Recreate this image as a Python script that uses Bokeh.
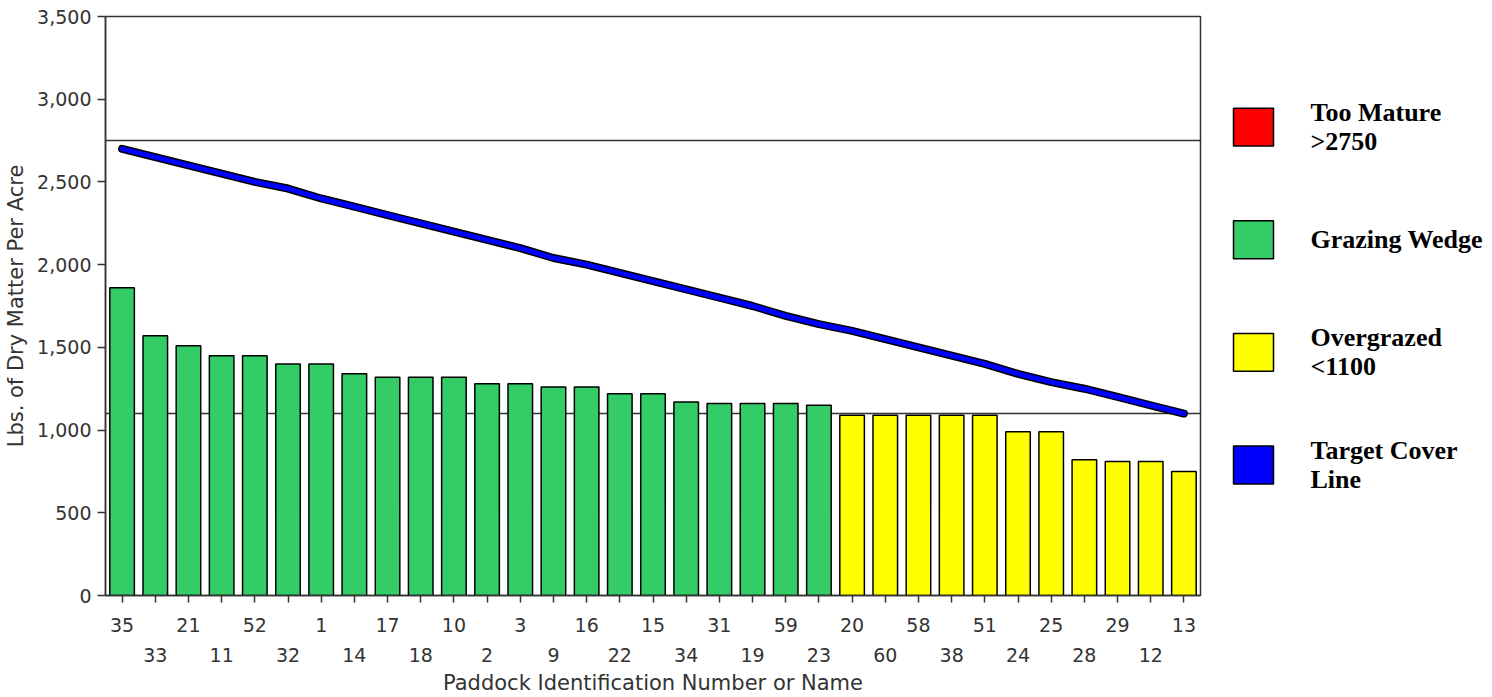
from bokeh.plotting import figure
from bokeh.models import (Range1d, LinearAxis, FixedTicker, NumeralTickFormatter, Span)
from bokeh.layouts import row
from bokeh.core.properties import value
from bokeh.embed import file_html
from bokeh.resources import INLINE

# ---------------- data ----------------
paddocks = ["35", "33", "21", "11", "52", "32", "1", "14", "17", "18", "10", "2", "3", "9",
            "16", "22", "15", "34", "31", "19", "59", "23", "20", "60", "58", "38", "51",
            "24", "25", "28", "29", "12", "13"]
cover = [1860, 1570, 1510, 1450, 1450, 1400, 1400, 1340, 1320, 1320, 1320, 1280, 1280, 1260,
         1260, 1220, 1220, 1170, 1160, 1160, 1160, 1150, 1090, 1090, 1090, 1090, 1090,
         990, 990, 820, 810, 810, 750]
target = [2700, 2650, 2600, 2550, 2500, 2460, 2400, 2350, 2300, 2250, 2200, 2150, 2100, 2040,
          2000, 1950, 1900, 1850, 1800, 1750, 1690, 1640, 1600, 1550, 1500, 1450, 1400,
          1340, 1290, 1250, 1200, 1150, 1100]
upper_limit = 2750
lower_limit = 1100
y_ticks = [0, 500, 1000, 1500, 2000, 2500, 3000, 3500]
legend_labels = [["Too Mature", ">2750"], ["Grazing Wedge"], ["Overgrazed", "<1100"],
                 ["Target Cover", "Line"]]
legend_colors = ["#FF0000", "#33CC66", "#FFFF00", "#0000FF"]

GREEN = "#33CC66"
YELLOW = "#FFFF00"
TXT = "#333333"
FONT = "DejaVu Sans"

n = len(paddocks)
xs = list(range(n))
colors = [GREEN if v > lower_limit else YELLOW for v in cover]

BORDER_TOP = 16
BORDER_BOTTOM = 100
H = 697

p = figure(width=1210, height=H, output_backend="svg", toolbar_location=None,
           x_range=Range1d(-0.5, n - 0.5), y_range=Range1d(0, 3500),
           min_border_left=105, min_border_right=10, min_border_top=BORDER_TOP,
           min_border_bottom=BORDER_BOTTOM, x_axis_type=None)
p.background_fill_color = "white"
p.border_fill_color = "white"
p.outline_line_color = TXT
p.outline_line_width = 1.5
p.xgrid.visible = False
p.ygrid.visible = False

for lvl in (upper_limit, lower_limit):
    p.add_layout(Span(location=lvl, dimension="width", line_color=TXT, line_width=1.5,
                      level="underlay"))

p.vbar(x=xs, top=cover, width=0.74, fill_color=colors, line_color="black", line_width=1.5)

p.line(xs, target, line_color="black", line_width=8, line_cap="round", line_join="round")
p.line(xs, target, line_color="#0000FF", line_width=5, line_cap="round", line_join="round")

# y axis
ya = p.yaxis[0]
ya.ticker = FixedTicker(ticks=y_ticks)
ya.formatter = NumeralTickFormatter(format="0,0")
ya.axis_label = "Lbs. of Dry Matter Per Acre"
ya.axis_label_text_font = FONT
ya.axis_label_text_font_style = "normal"
ya.axis_label_text_font_size = "21px"
ya.axis_label_text_color = TXT
ya.axis_label_standoff = 6
ya.major_label_text_font = FONT
ya.major_label_text_font_size = "19px"
ya.major_label_text_color = TXT
ya.major_label_standoff = 6
ya.major_tick_out = 8
ya.major_tick_in = 0
ya.minor_tick_line_color = None
ya.axis_line_color = TXT
ya.axis_line_width = 1.5
ya.major_tick_line_color = TXT
ya.major_tick_line_width = 1.5

# x axis: two staggered rows of labels
top_row = {i: paddocks[i] if i % 2 == 0 else "" for i in xs}
bottom_row = {i: paddocks[i] for i in xs if i % 2 == 1}

xa1 = LinearAxis(ticker=FixedTicker(ticks=xs), major_label_overrides=top_row)
xa1.major_label_text_font = FONT
xa1.major_label_text_font_size = "19px"
xa1.major_label_text_color = TXT
xa1.major_label_standoff = 15
xa1.major_tick_out = 7
xa1.major_tick_in = 0
xa1.minor_tick_line_color = None
xa1.axis_line_color = TXT
xa1.axis_line_width = 1.5
xa1.major_tick_line_color = TXT
xa1.major_tick_line_width = 1.5
p.add_layout(xa1, "below")

xa2 = LinearAxis(ticker=FixedTicker(ticks=[i for i in xs if i % 2 == 1]),
                 major_label_overrides=bottom_row)
xa2.major_label_text_font = FONT
xa2.major_label_text_font_size = "19px"
xa2.major_label_text_color = TXT
xa2.major_label_standoff = 13
xa2.major_tick_out = 0
xa2.major_tick_in = 0
xa2.minor_tick_line_color = None
xa2.axis_line_color = None
xa2.major_tick_line_color = None
xa2.axis_label = "Paddock Identification Number or Name"
xa2.axis_label_text_font = FONT
xa2.axis_label_text_font_style = "normal"
xa2.axis_label_text_font_size = "21px"
xa2.axis_label_text_color = TXT
xa2.axis_label_standoff = 6
p.add_layout(xa2, "below")

# ---------------- legend panel ----------------
# frame aligned with main plot frame; data units == page pixels vertically
lg = figure(width=282, height=H, output_backend="svg", toolbar_location=None,
            x_range=Range1d(0, 282), y_range=Range1d(H - BORDER_BOTTOM, BORDER_TOP),
            min_border_left=0, min_border_right=0, min_border_top=BORDER_TOP,
            min_border_bottom=BORDER_BOTTOM, x_axis_type=None, y_axis_type=None)
lg.outline_line_color = None
lg.xgrid.visible = False
lg.ygrid.visible = False
lg.background_fill_color = "white"
lg.border_fill_color = "white"

centers = [127 + 113 * i for i in range(len(legend_labels))]
lg.rect(x=[43] * len(centers), y=centers, width=40, height=38,
        fill_color=legend_colors, line_color="black", line_width=1.5)

tx, ty, tt = [], [], []
for c, lines in zip(centers, legend_labels):
    offs = [0] if len(lines) == 1 else [-14.5, 14.5]
    for o, t in zip(offs, lines):
        tx.append(100)
        ty.append(c + o)
        tt.append(t)
lg.text(x=tx, y=ty, text=tt, text_font=value("Liberation Serif"), text_font_style="bold",
        text_font_size="26px", text_color="black", text_align="left", text_baseline="middle")

layout = row(p, lg)
open("out.html", "w").write(file_html(layout, INLINE))
